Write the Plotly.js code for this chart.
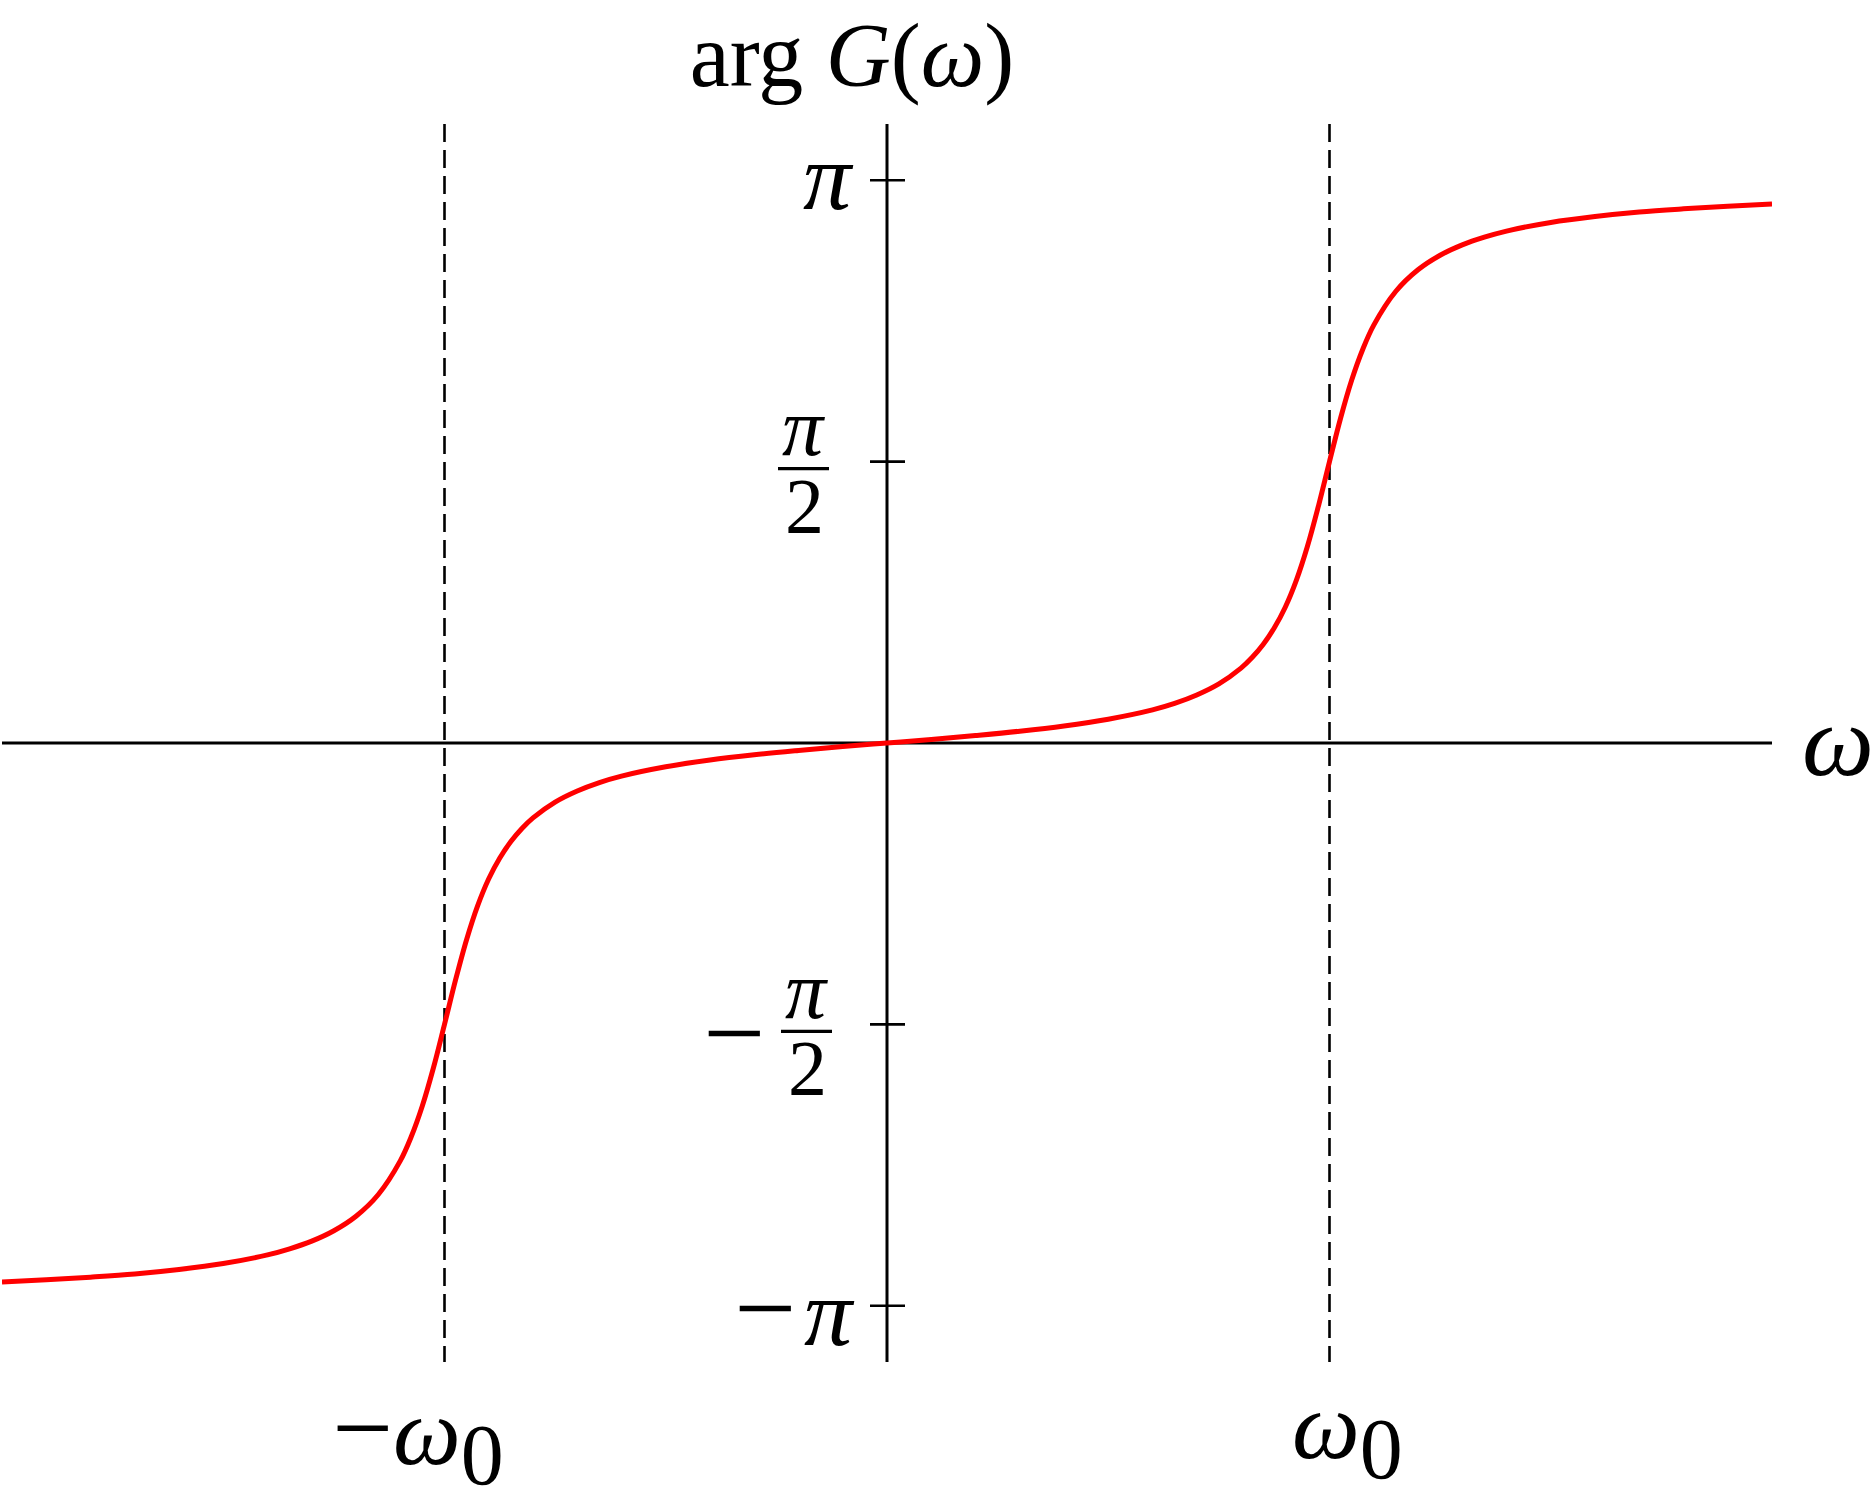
<!DOCTYPE html>
<html>
<head>
<meta charset="utf-8">
<script src="https://cdn.plot.ly/plotly-3.0.1.min.js"></script>
<style>
  html, body { margin: 0; padding: 0; background: #ffffff; }
  #chart { width: 1874px; height: 1493px; }
</style>
</head>
<body>
<div id="chart"></div>
<script>
const PI = Math.PI;

// angular frequency in units of omega_0
const omega = [
  -2.0, -1.9, -1.8, -1.7, -1.6, -1.5, -1.4, -1.35, -1.3, -1.25, -1.2, -1.15, -1.1, -1.075,
  -1.05, -1.025, -1.0, -0.975, -0.95, -0.925, -0.9, -0.875, -0.85, -0.825, -0.8, -0.75,
  -0.7, -0.65, -0.6, -0.5, -0.4, -0.3, -0.2, -0.1,
  0,
  0.1, 0.2, 0.3, 0.4, 0.5, 0.6, 0.65, 0.7, 0.75, 0.8, 0.825, 0.85, 0.875, 0.9, 0.925,
  0.95, 0.975, 1.0, 1.025, 1.05, 1.075, 1.1, 1.15, 1.2, 1.25, 1.3, 1.35, 1.4, 1.5, 1.6,
  1.7, 1.8, 1.9, 2.0
];

// phase arg G(omega) in radians
const phase = [
  -3.009, -2.997, -2.982, -2.964, -2.939, -2.906, -2.858, -2.824, -2.781, -2.723, -2.642,
  -2.522, -2.333, -2.197, -2.025, -1.813, -1.571, -1.323, -1.097, -0.908, -0.758, -0.642,
  -0.550, -0.477, -0.418, -0.330, -0.268, -0.221, -0.185, -0.133, -0.095, -0.066, -0.042, -0.020,
  0,
  0.020, 0.042, 0.066, 0.095, 0.133, 0.185, 0.221, 0.268, 0.330, 0.418, 0.477, 0.550,
  0.642, 0.758, 0.908, 1.097, 1.323, 1.571, 1.813, 2.025, 2.197, 2.333, 2.522, 2.642,
  2.723, 2.781, 2.824, 2.858, 2.906, 2.939, 2.964, 2.982, 2.997, 3.009
];

// y-axis tick positions
const tickVals = [PI, PI / 2, -PI / 2, -PI];
// resonance markers (-omega_0, +omega_0)
const resonance = [-1, 1];
const resonanceLabels = [
  '<span style="font-size:108px">−</span><i>ω</i><sub><span style="font-size:86px">0</span></sub>',
  '<i>ω</i><sub><span style="font-size:86px">0</span></sub>'
];

const FONT = 'Liberation Serif, DejaVu Serif, serif';
const INK = '#000000';

const trace = {
  x: omega,
  y: phase,
  type: 'scatter',
  mode: 'lines',
  line: { color: '#ff0000', width: 5, shape: 'spline', smoothing: 1 },
  hoverinfo: 'skip'
};

const shapes = [
  // horizontal (omega) axis
  { type: 'line', xref: 'paper', yref: 'y', x0: 0, x1: 1, y0: 0, y1: 0,
    layer: 'below', line: { color: INK, width: 3 } },
  // vertical (phase) axis
  { type: 'line', xref: 'x', yref: 'paper', x0: 0, x1: 0, y0: 0, y1: 1,
    layer: 'below', line: { color: INK, width: 3 } }
];
// dashed verticals at +-omega_0
resonance.forEach(function (m) {
  shapes.push({
    type: 'line', xref: 'x', yref: 'paper', x0: m, x1: m, y0: 1, y1: 0,
    layer: 'below', line: { color: INK, width: 2.6, dash: '18px,8px' }
  });
});
// tick marks crossing the vertical axis
tickVals.forEach(function (v) {
  shapes.push({
    type: 'line', xref: 'x', yref: 'y', xsizemode: 'pixel', xanchor: 0,
    x0: -17, x1: 18, y0: v, y1: v,
    line: { color: INK, width: 2.6 }
  });
});
// fraction bars for +-pi/2
[[tickVals[1], -109, -58], [tickVals[2], -106, -55]].forEach(function (f) {
  shapes.push({
    type: 'line', xref: 'x', yref: 'y',
    xsizemode: 'pixel', xanchor: 0, x0: f[1], x1: f[2],
    ysizemode: 'pixel', yanchor: f[0], y0: -7, y1: -7,
    line: { color: INK, width: 3.4 }
  });
});

function ann(text, x, y, xs, ys, size, xanchor, extra) {
  const a = {
    text: text, x: x, y: y, xref: 'x', yref: 'y',
    xanchor: xanchor || 'center', yanchor: 'middle',
    xshift: xs, yshift: ys, showarrow: false,
    font: { family: FONT, size: size, color: INK }
  };
  return Object.assign(a, extra || {});
}

const FRAC = { height: 58, valign: 'middle' };

const annotations = [
  // pi
  ann('<i>π</i>', 0, tickVals[0], -59, 4, 96),
  // pi/2
  ann('<i>π</i>', 0, tickVals[1], -84, 35, 82, 'center', FRAC),
  ann('2', 0, tickVals[1], -83, -43, 78, 'center', FRAC),
  // -pi/2
  ann('−', 0, tickVals[2], -153, -9, 110),
  ann('<i>π</i>', 0, tickVals[2], -81, 34, 82, 'center', FRAC),
  ann('2', 0, tickVals[2], -80, -43, 78, 'center', FRAC),
  // -pi
  ann('<span style="font-size:110px">−</span><span style="font-size:40px">\u2009</span><i>π</i>',
      0, tickVals[3], -30, -2, 96, 'right'),
  // x-axis labels
  ann(resonanceLabels[0], resonance[0], -1.1 * PI, -27, -73, 96),
  ann(resonanceLabels[1], resonance[1], -1.1 * PI, 18, -72, 96),
  // omega axis label
  ann('<i>ω</i>', 2, 0, 66, 3, 102)
];

const layout = {
  width: 1874,
  height: 1493,
  margin: { l: 2, r: 102, t: 124, b: 131, pad: 0 },
  paper_bgcolor: '#ffffff',
  plot_bgcolor: '#ffffff',
  showlegend: false,
  title: {
    text: 'arg <i>G</i>(<i>ω</i>)',
    font: { family: FONT, size: 90, color: INK },
    x: 852 / 1874, xref: 'container', xanchor: 'center',
    y: 1 - 54 / 1493, yref: 'container', yanchor: 'middle'
  },
  xaxis: {
    range: [-2, 2], showgrid: false, showticklabels: false, ticks: '',
    showline: false, zeroline: false, fixedrange: true
  },
  yaxis: {
    range: [-1.1 * PI, 1.1 * PI], showgrid: false, showticklabels: false, ticks: '',
    showline: false, zeroline: false, fixedrange: true
  },
  shapes: shapes,
  annotations: annotations
};

Plotly.newPlot('chart', [trace], layout, { staticPlot: true, displayModeBar: false });
</script>
</body>
</html>
